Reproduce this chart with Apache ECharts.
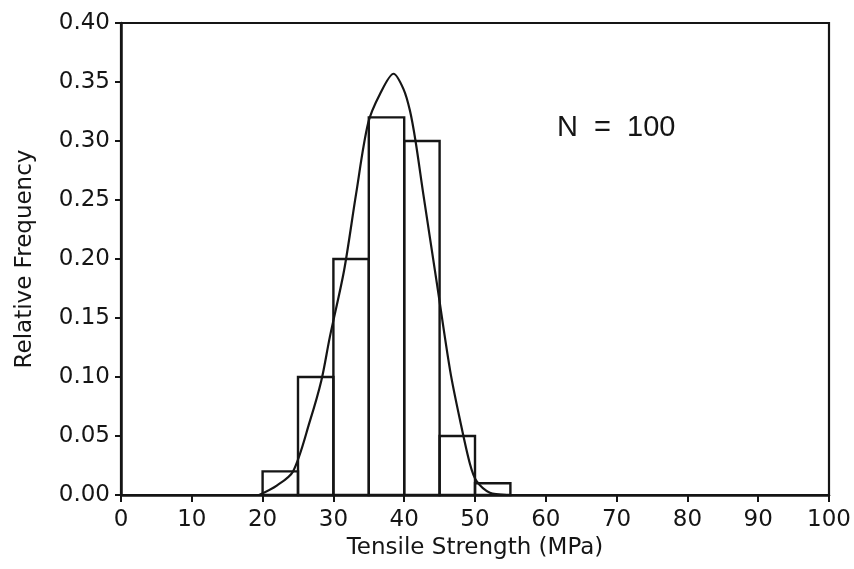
<!DOCTYPE html>
<html>
<head>
<meta charset="utf-8">
<script src="https://cdn.jsdelivr.net/npm/echarts@6/dist/echarts.min.js"></script>
<style>
html,body{margin:0;padding:0;background:#fff;}
#chart{width:854px;height:569px;}
</style>
</head>
<body>
<div id="chart"></div>
<script>
// Histogram bins (MPa) and relative frequencies
const binStart = [20, 25, 30, 35, 40, 45, 50];
const binEnd   = [25, 30, 35, 40, 45, 50, 55];
const relFreq  = [0.02, 0.10, 0.20, 0.32, 0.30, 0.05, 0.01];

// Fitted curve, points
const curveX = [19.5, 22, 24.3, 26.7, 28.3, 29.5, 31.5, 33.2, 34.9, 36.6, 38.5, 39.9, 40.8, 41.6, 42.7, 44.6, 46.5, 47.9, 49.3, 50.2, 52.1, 54.5];
const curveY = [0.0, 0.008, 0.02, 0.063, 0.097, 0.134, 0.19, 0.255, 0.315, 0.340, 0.357, 0.344, 0.326, 0.300, 0.255, 0.180, 0.105, 0.063, 0.026, 0.012, 0.002, 0.0];

const annotation = 'N  =  100';
const xTitle = 'Tensile Strength (MPa)';
const yTitle = 'Relative Frequency';

const ink = '#151515';
const font = '"DejaVu Sans", sans-serif';
const font2 = '"Liberation Sans", Arial, sans-serif';

const chart = echarts.init(document.getElementById('chart'), null, {renderer: 'canvas'});
chart.setOption({
  animation: false,
  backgroundColor: '#fff',
  grid: {left: 121, right: 25, top: 23, bottom: 74, containLabel: false, outerBoundsMode: 'none',
    show: true, borderColor: ink, borderWidth: 2.2, backgroundColor: 'transparent'},
  xAxis: {
    type: 'value', min: 0, max: 100, interval: 10,
    name: xTitle, nameLocation: 'middle', nameGap: 42,
    nameTextStyle: {fontFamily: font, fontSize: 23, color: ink},
    axisLine: {show: true, lineStyle: {color: ink, width: 2.5}},
    axisTick: {show: true, length: 7, lineStyle: {color: ink, width: 2}},
    axisLabel: {fontFamily: font, fontSize: 23, color: ink, margin: 14},
    splitLine: {show: false}
  },
  yAxis: {
    type: 'value', min: 0, max: 0.4, interval: 0.05,
    name: yTitle, nameLocation: 'middle', nameGap: 84, nameRotate: 90,
    nameTextStyle: {fontFamily: font, fontSize: 23, color: ink},
    axisLine: {show: true, lineStyle: {color: ink, width: 2.5}},
    axisTick: {show: true, length: 6, lineStyle: {color: ink, width: 2}},
    axisLabel: {fontFamily: font, fontSize: 23, color: ink, margin: 11,
      formatter: v => v.toFixed(2)},
    splitLine: {show: false}
  },
  graphic: [{
    type: 'text', left: 557, top: 113,
    style: {text: annotation, font: '29px ' + font2, fill: ink}
  }],
  series: [
    {
      type: 'custom',
      data: binStart.map((s, i) => [s, binEnd[i], relFreq[i]]),
      encode: {x: [0, 1], y: 2},
      z: 2,
      renderItem: function (params, api) {
        const p0 = api.coord([api.value(0), api.value(2)]);
        const p1 = api.coord([api.value(1), 0]);
        return {
          type: 'rect',
          shape: {x: p0[0], y: p0[1], width: p1[0] - p0[0], height: p1[1] - p0[1]},
          style: {fill: 'transparent', stroke: ink, lineWidth: 2.4}
        };
      }
    },
    {
      type: 'line',
      data: curveX.map((x, i) => [x, curveY[i]]),
      smooth: 0.3,
      symbol: 'none',
      z: 3,
      lineStyle: {color: ink, width: 2.2}
    }
  ]
});
</script>
</body>
</html>
